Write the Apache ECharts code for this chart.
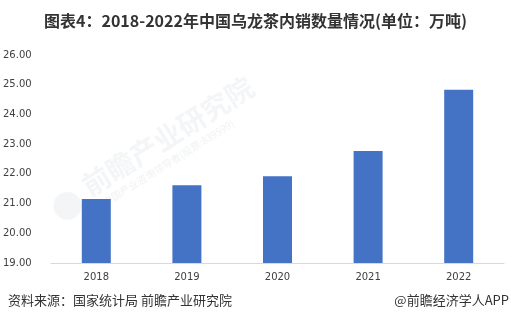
<!DOCTYPE html>
<html>
<head>
<meta charset="utf-8">
<script src="https://cdn.jsdelivr.net/npm/echarts@6/dist/echarts.min.js"></script>
<style>
  html, body { margin: 0; padding: 0; background: #fff; }
  #chart { width: 511px; height: 326px; }
</style>
</head>
<body>
<div id="chart"></div>
<script>
// 中国乌龙茶内销数量（万吨）
const years = ['2018', '2019', '2020', '2021', '2022'];
const salesVolume = [21.15, 21.62, 21.92, 22.77, 24.83];
const yMin = 19;
const yMax = 26;
const yStep = 1;

const chart = echarts.init(document.getElementById('chart'));
const cjk = '"Microsoft YaHei", "Noto Sans CJK SC", sans-serif';
const markFill = 'rgba(190,198,210,0.18)';

chart.setOption({
  backgroundColor: '#ffffff',
  animation: false,
  title: {
    text: '图表4：2018-2022年中国乌龙茶内销数量情况(单位：万吨)',
    left: 'center',
    top: 8,
    textStyle: { fontFamily: cjk, fontSize: 16, fontWeight: 'bold', color: '#333333' }
  },
  graphic: [
    {
      type: 'group',
      x: 92, y: 200,
      rotation: Math.PI * 32 / 180,
      z: 0,
      silent: true,
      children: [
        {
          type: 'circle', shape: { cx: -24, cy: -8, r: 14 },
          style: { fill: markFill }
        },
        {
          type: 'text', x: 0, y: 0,
          style: { text: '前瞻产业研究院', font: 'bold 28px ' + cjk, fill: markFill, verticalAlign: 'bottom' }
        },
        {
          type: 'text', x: 8, y: 4,
          style: { text: '中国产业咨询领导者(股票:839599)', font: '10px ' + cjk, fill: 'rgba(190,198,210,0.25)', verticalAlign: 'top' }
        }
      ]
    },
    {
      type: 'text',
      left: 8, top: 294,
      style: { text: '资料来源：国家统计局 前瞻产业研究院', font: '13px ' + cjk, fill: '#333333' }
    },
    {
      type: 'text',
      right: 2, top: 294,
      style: { text: '@前瞻经济学人APP', font: '13px ' + cjk, fill: '#333333' }
    }
  ],
  grid: { left: 45, right: 7, top: 55, bottom: 63 },
  xAxis: {
    type: 'category',
    data: years,
    axisLine: { lineStyle: { color: '#d9d9d9', width: 1 } },
    axisTick: { show: false },
    axisLabel: { color: '#404040', fontSize: 10, margin: 9, fontFamily: 'Tahoma, "DejaVu Sans", sans-serif' }
  },
  yAxis: {
    type: 'value',
    min: yMin,
    max: yMax,
    interval: yStep,
    splitLine: { show: false },
    axisLine: { show: false },
    axisTick: { show: false },
    axisLabel: {
      color: '#404040', fontSize: 10, margin: 11, align: 'left',
      padding: [0, 0, 0, -37],
      fontFamily: 'Tahoma, "DejaVu Sans", sans-serif',
      formatter: v => v.toFixed(2)
    }
  },
  series: [{
    type: 'bar',
    data: salesVolume,
    barWidth: 29,
    itemStyle: { color: '#4472c4' },
    z: 2
  }]
});
</script>
</body>
</html>
